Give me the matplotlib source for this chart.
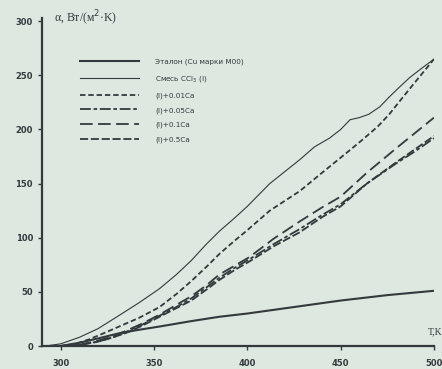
import numpy as np
import matplotlib
matplotlib.use("Agg")
import matplotlib.pyplot as plt

plt.rcParams['font.family'] = ['DejaVu Sans']

# эталон
T_ref = [300, 310, 320, 332, 342, 353, 370, 385, 400, 425, 450, 475, 500]
a_ref = [0, 3, 7, 12, 15, 18, 23, 27, 30, 36, 42, 47, 51]
# смесь CCl3 (I)
T_mix = [292, 300, 310, 320, 332, 342, 353, 362, 370, 378, 385, 393, 400, 412, 420,
         428, 436, 441, 444, 450, 455, 460, 465, 471, 476, 482, 487, 493, 500]
a_mix = [0, 2, 8, 16, 29, 40, 53, 66, 79, 94, 106, 118, 129, 150, 161,
         172, 184, 189, 192, 200, 209, 211, 214, 221, 230, 240, 248, 256, 265]
# (I)+0.01Ca
T_c1 = [300, 308, 315, 322, 330, 342, 353, 362, 370, 378, 385, 393, 400, 412, 428,
        440, 450, 455, 462, 470, 476, 482, 490, 500]
a_c1 = [0, 2, 6, 11, 17, 26, 36, 48, 60, 73, 85, 97, 107, 125, 143,
        160, 174, 181, 191, 203, 214, 227, 244, 265]
# (I)+0.05Ca
T_c2 = [300, 310, 320, 328, 335, 344, 353, 362, 370, 378, 385, 393, 401, 414,
        428, 440, 450, 464, 480, 490, 500]
a_c2 = [0, 1, 4, 8, 13, 20, 28, 36, 44, 54, 63, 72, 80, 94,
        108, 121, 131, 150, 169, 180, 192]
# (I)+0.1Ca
T_c3 = [300, 310, 320, 328, 335, 344, 353, 362, 370, 378, 385, 393, 401, 414,
        428, 440, 450, 464, 480, 490, 500]
a_c3 = [0, 1, 5, 9, 14, 21, 29, 38, 46, 56, 66, 74, 82, 99,
        115, 128, 138, 160, 183, 197, 211]
# (I)+0.5Ca
T_c4 = [300, 310, 320, 328, 335, 344, 353, 362, 370, 378, 385, 393, 401, 414,
        428, 440, 450, 464, 480, 490, 500]
a_c4 = [0, 1, 4, 8, 12, 19, 27, 35, 42, 52, 61, 70, 78, 92,
        105, 119, 129, 150, 170, 182, 194]

labels = ['Эталон (Cu марки М00)', 'Смесь CCl$_3$ (I)', '(I)+0.01Ca',
          '(I)+0.05Ca', '(I)+0.1Ca', '(I)+0.5Ca']

bg = '#dde8e1'
lc = '#33393c'

fig = plt.figure(figsize=(4.42, 3.69), dpi=100, facecolor=bg)
ax = fig.add_axes([42 / 442, 23 / 369, 392 / 442, 328 / 369], facecolor=bg)

ax.plot(T_ref, a_ref, color=lc, lw=1.5, label=labels[0])
ax.plot(T_mix, a_mix, color=lc, lw=0.8, label=labels[1])
ax.plot(T_c1, a_c1, color=lc, lw=1.3, dashes=(3, 1.6), label=labels[2])
ax.plot(T_c2, a_c2, color=lc, lw=1.3, dashes=(6, 1.5, 2, 1.5), label=labels[3])
ax.plot(T_c3, a_c3, color=lc, lw=1.3, dashes=(7, 3), label=labels[4])
ax.plot(T_c4, a_c4, color=lc, lw=1.3, dashes=(4.5, 1.5), label=labels[5])

ax.set_xlim(290, 500)
ax.set_ylim(0, 303)
ax.set_xticks([300, 350, 400, 450, 500])
ax.set_yticks([0, 50, 100, 150, 200, 250, 300])
for s in ['top', 'right']:
    ax.spines[s].set_visible(False)
for s in ['left', 'bottom']:
    ax.spines[s].set_color(lc)
    ax.spines[s].set_linewidth(1.6)
ax.tick_params(colors=lc, labelsize=6, length=3, width=1)
ax.tick_params(axis='x', pad=6)
for t in ax.get_xticklabels() + ax.get_yticklabels():
    t.set_fontweight('bold')

ax.text(0.03, 1.0, 'α, Вт/(м$^2$·K)', transform=ax.transAxes, fontsize=8.5,
        family='Liberation Serif', color=lc, va='center', ha='left')
ax.text(0.985, 0.03, 'T,K', transform=ax.transAxes, fontsize=7,
        family='Liberation Serif', color=lc, va='bottom', ha='left')

ax.legend(loc='upper left', bbox_to_anchor=(0.08, 0.895), frameon=False,
          fontsize=5.2, handlelength=8.2, handletextpad=2.2, labelspacing=1.15,
          labelcolor=lc)

fig.savefig('out.png', dpi=100, facecolor=bg)
